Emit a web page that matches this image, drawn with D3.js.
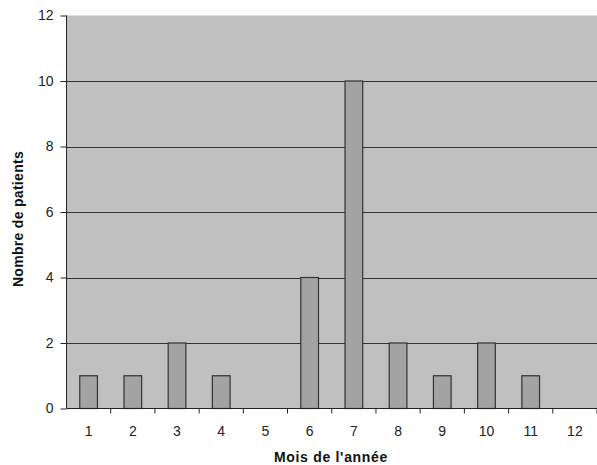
<!DOCTYPE html>
<html><head><meta charset="utf-8">
<script src="https://cdn.jsdelivr.net/npm/d3@7"></script>
<style>body{margin:0;background:#fff}svg{display:block}</style>
</head><body>
<script>
const months = ["1","2","3","4","5","6","7","8","9","10","11","12"];
const patients = [1,1,2,1,0,4,10,2,1,2,1,0];
const yTicks = [0,2,4,6,8,10,12];
const xTitle = "Mois de l'année";
const yTitle = "Nombre de patients";

const W = 597, H = 465;
const L = 66.5, R = 597, T = 15.5, B = 408.5;
const FONT = "Liberation Sans, Arial, sans-serif";
const svg = d3.select("body").append("svg").attr("width", W).attr("height", H);
const x = d3.scaleBand().domain(months).range([L, R]).paddingInner(0).paddingOuter(0);
const y = d3.scaleLinear().domain([0, 12]).range([B, T]);

svg.append("rect").attr("x", L).attr("y", T).attr("width", R - L).attr("height", B - T).attr("fill", "#c0c0c0");

svg.append("g").selectAll("line").data(yTicks.filter(d => d > 0 && d < 12)).join("line")
  .attr("x1", L).attr("x2", R).attr("y1", d => Math.round(y(d)) + 0.5).attr("y2", d => Math.round(y(d)) + 0.5)
  .attr("stroke", "#333").attr("stroke-width", 1.2);

const rows = months.map((m, i) => ({m, v: patients[i]})).filter(d => d.v > 0);
const bw = x.bandwidth() * 0.4;
svg.append("g").selectAll("rect").data(rows).join("rect")
  .attr("x", d => x(d.m) + (x.bandwidth() - bw) / 2)
  .attr("y", d => y(d.v))
  .attr("width", bw)
  .attr("height", d => B - y(d.v))
  .attr("fill", "#a3a3a3").attr("stroke", "#333").attr("stroke-width", 1.2);

// y axis
const ya = svg.append("g").attr("transform", `translate(${L},0)`)
  .call(d3.axisLeft(y).tickValues(yTicks).tickSize(6).tickPadding(7));
ya.select(".domain").attr("stroke", "#222").attr("d", `M-0,${T}V${B}`);
ya.selectAll(".tick line").attr("stroke", "#222");
ya.selectAll("text").attr("font-family", FONT).attr("font-size", 14).attr("fill", "#222");

// x axis
const xa = svg.append("g").attr("transform", `translate(0,${B})`);
xa.append("line").attr("x1", L).attr("x2", R).attr("stroke", "#222").attr("stroke-width", 1.2);
xa.selectAll("line.t").data(months).join("line").attr("class", "t")
  .attr("x1", d => x(d) + x.bandwidth()).attr("x2", d => x(d) + x.bandwidth())
  .attr("y1", 0).attr("y2", 5).attr("stroke", "#222");
xa.selectAll("text").data(months).join("text")
  .attr("x", d => x(d) + x.bandwidth() / 2).attr("y", 27.5)
  .attr("text-anchor", "middle")
  .attr("font-family", FONT).attr("font-size", 14).attr("fill", "#222")
  .text(d => d);

svg.append("text").attr("x", 331).attr("y", 461.5).attr("text-anchor", "middle")
  .attr("font-family", FONT).attr("font-size", 14).attr("font-weight", "bold").attr("letter-spacing", 0.7).attr("fill", "#111")
  .text(xTitle);
svg.append("text").attr("transform", `translate(23,219) rotate(-90)`).attr("text-anchor", "middle")
  .attr("font-family", FONT).attr("font-size", 14).attr("font-weight", "bold").attr("letter-spacing", 0.3).attr("fill", "#111")
  .text(yTitle);
</script>
</body></html>
